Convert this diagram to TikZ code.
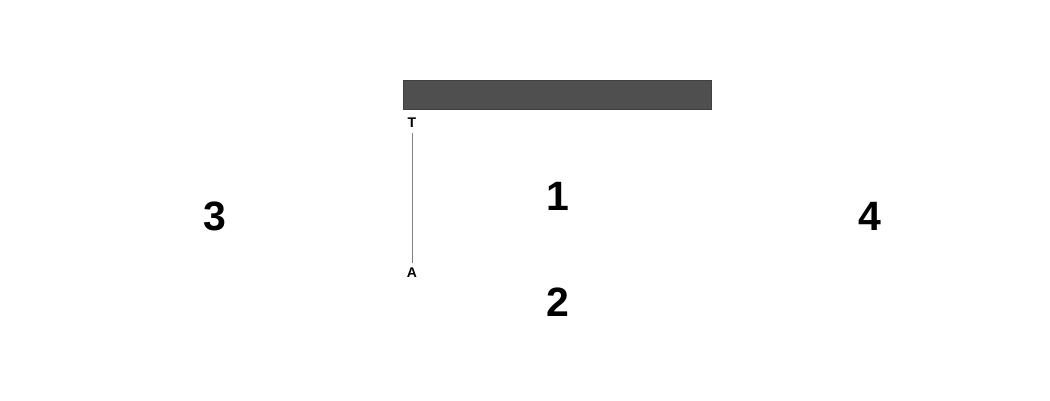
\documentclass[tikz,border=0pt]{standalone}
\usepackage{fontspec}
\setmainfont{Liberation Sans}
\begin{document}
\begin{tikzpicture}[x=1pt,y=-1pt,
  big/.style={font=\fontsize{41}{41}\selectfont\bfseries, inner sep=0pt},
  small/.style={font=\fontsize{14}{14}\selectfont\bfseries, inner sep=0pt}]
\useasboundingbox (0,0) rectangle (1050,400);
\fill[white] (0,0) rectangle (1050,400);
\node[draw=black!75, fill=black!69, minimum width=308pt, minimum height=29pt, inner sep=0pt, line width=0.8pt] (bar) at (557,94.5) {};
\node[small] (T) at (412,123) {T};
\node[small] (A) at (412,273) {A};
\coordinate (ta) at (412,133);
\coordinate (tb) at (412,263);
\draw[gray, line width=0.8pt] (ta) -- (tb);
\node[big] (n1) at (558,196) {1};
\node[big] (n2) at (558,302) {2};
\node[big] (n3) at (215,216) {3};
\node[big] (n4) at (870,216) {4};
\end{tikzpicture}
\end{document}
